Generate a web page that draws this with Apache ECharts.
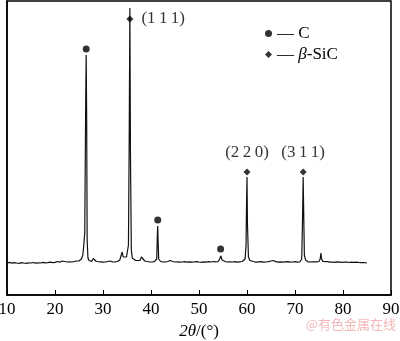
<!DOCTYPE html>
<html><head><meta charset="utf-8">
<script src="https://cdn.jsdelivr.net/npm/echarts@6/dist/echarts.min.js"></script>
<style>html,body{margin:0;padding:0;background:#fff}#c{width:400px;height:341px}</style>
</head><body><div id="c"></div>
<script>
// XRD profile: 2θ (°) and intensity (a.u.), written row by row (10 per row)
var twoTheta = [
  10,10.5,11,11.5,12,12.5,13,13.5,14,14.5,
  15,15.5,16,16.5,17,17.5,18,18.5,19,19.5,
  20,20.5,21,21.5,22,22.5,23,23.5,24,24.5,
  25,
  25.5,25.8,26.0,26.2,26.4,26.5,26.6,26.7,26.85,27.0,
  27.3,27.6,28.0,28.3,28.6,29,29.5,30,30.5,31,
  31.5,32,32.5,33,33.5,33.8,34.0,34.2,34.5,34.9,
  35.3,35.45,35.6,35.72,35.9,36.1,36.4,36.8,37.2,37.7,
  38.0,38.3,38.7,39.2,39.7,40.2,40.7,41.2,41.32,41.4,
  41.48,41.6,41.8,42,42.5,43,43.5,44,44.5,45,
  45.5,46,46.5,47,47.5,48,48.5,49,49.5,50,
  50.5,51,51.5,52,52.5,53,53.5,54,54.3,54.55,
  54.8,55.2,55.7,56,56.5,57,57.5,58,58.5,59,
  59.6,59.8,59.9,60.0,60.1,60.3,60.6,61,61.5,62,
  62.5,63,63.5,64,64.5,65,65.5,66,66.5,67,
  67.5,68,68.5,69,69.5,70,70.5,71,71.4,71.55,
  71.7,71.82,71.95,72.2,72.5,72.8,73.2,73.6,74,74.5,
  75,75.25,75.4,75.55,75.8,76.2,76.8,77.3,77.8,78.3,
  78.8,79.3,79.8,80.3,80.8,81.3,81.8,82.3,82.8,83.3,
  83.8,84.3,85
];
var intensity = [
  32,32.6,31.8,32.3,32,31.5,32.4,32,31.7,32.2,
  32,32.5,31.8,32.2,32,32.6,32.1,32.4,32.8,32.3,
  32.6,33.5,32.8,34,33.5,33,33.2,33,33.5,34,
  34,
  36,40,50,62,195,240,175,55,38,35,
  34,33.5,36.5,34.5,33.5,33,33.2,32.8,33,33.5,
  34,33,33.2,33.5,35,40,43,38,36,38,
  50,150,287,140,45,37,35,34.5,34,34.5,
  38,36,34,33.5,33.2,33,33.3,36,60,69,
  55,36,34,33.5,33.2,33,33.5,34.5,33.5,33,
  33.2,32.8,33,33.3,32.9,33.1,32.8,33,33.4,33,
  32.7,33.2,32.9,33.3,33,33.5,33.2,33.5,36,39,
  35,33.5,33,32.8,33.2,33,33.4,32.9,33.2,33.5,
  36,50,90,118,70,38,34.5,33,33.2,32.9,
  33.1,33.3,32.8,33,33.4,34,34.5,33.3,32.9,33.2,
  32.8,33.1,33.4,32.9,33,33.3,32.8,33,36,70,
  118,80,40,35,34,33,32.8,33.1,32.9,33.2,
  33.5,36,42,36,33.5,33,33.3,32.8,33,32.7,
  33.1,32.9,32.6,33,32.8,32.5,32.9,32.6,32.8,32.5,
  32.3,32.5,32
];
var cPeakTheta = [26.5, 41.4, 54.5];
var cMarkY = [246, 75, 46];
var sicPeakTheta = [35.6, 60.0, 71.7];
var sicMarkY = [276, 123, 123];
var sicLabels = ['(1\u20091\u20091)', '(2\u20092\u20090)', '(3\u20091\u20091)'];
var xTicks = [10,20,30,40,50,60,70,80,90];

var serif = '"Liberation Serif","Times New Roman",serif';
var n = Math.min(twoTheta.length, intensity.length);
var profile = [];
for (var k = 0; k < n; k++) profile.push([twoTheta[k], intensity[k]]);
var cData = cPeakTheta.map(function(t,i){return [t,cMarkY[i]];});
var sicData = sicPeakTheta.map(function(t,i){
  return {value:[t,sicMarkY[i]], label:{show:true, formatter:sicLabels[i], position: i===0?'right':'top', distance: i===0?8:7}};
});

var chart = echarts.init(document.getElementById('c'), null, {renderer:'canvas'});
chart.setOption({
  animation:false,
  grid:{left:7,right:9,top:1,bottom:46,containLabel:false,outerBoundsMode:'none',show:true,borderColor:'#000',borderWidth:1.5,backgroundColor:'transparent'},
  legend:{
    left:260, top:20, orient:'vertical', itemWidth:7, itemHeight:7, itemGap:4,
    data:[{name:'C',icon:'circle'},{name:'β-SiC',icon:'diamond'}],
    textStyle:{fontFamily:serif,fontSize:17,color:'#000',
      rich:{n:{fontFamily:serif,fontSize:17,color:'#000'},i:{fontFamily:serif,fontSize:17,fontStyle:'italic',color:'#000'}}},
    formatter:function(name){
      if(name==='C') return '{n|— C}';
      return '{n|— }{i|β}{n|-SiC}';
    }
  },
  xAxis:{
    type:'value', min:10, max:90, interval:10,
    name:'{i|2θ}{n|/(°)}', nameLocation:'middle', nameGap:25,
    nameTextStyle:{fontFamily:serif,fontSize:17,color:'#000',
      rich:{i:{fontFamily:serif,fontSize:17,fontStyle:'italic',color:'#000'},n:{fontFamily:serif,fontSize:17,color:'#000'}}},
    axisLine:{show:true,lineStyle:{color:'#000',width:1.5}},
    axisTick:{show:true,inside:true,length:5,lineStyle:{color:'#000',width:1}},
    axisLabel:{fontFamily:serif,fontSize:17,color:'#000',margin:6,
      formatter:function(v){return xTicks.indexOf(v)>=0?String(v):'';}},
    splitLine:{show:false}
  },
  yAxis:{
    type:'value', min:0, max:294,
    axisLine:{show:true,lineStyle:{color:'#000',width:1.5}},
    axisTick:{show:false}, axisLabel:{show:false}, splitLine:{show:false}
  },
  series:[
    {type:'line', name:'profile', data:profile, showSymbol:false, symbol:'none',
     lineStyle:{color:'#111',width:1.2}, z:2, silent:true},
    {type:'scatter', name:'C', data:cData, symbol:'circle', symbolSize:7,
     itemStyle:{color:'#000'}, z:3},
    {type:'scatter', name:'β-SiC', data:sicData, symbol:'diamond', symbolSize:7,
     itemStyle:{color:'#000'}, z:3,
     label:{fontFamily:serif,fontSize:17,color:'#000'}}
  ],
  graphic:[{type:'text', right:4, top:318,
    style:{text:'@有色金属在线', font:'13px "Noto Sans CJK SC", sans-serif', fill:'#f2b8b8'}}]
});
</script></body></html>
